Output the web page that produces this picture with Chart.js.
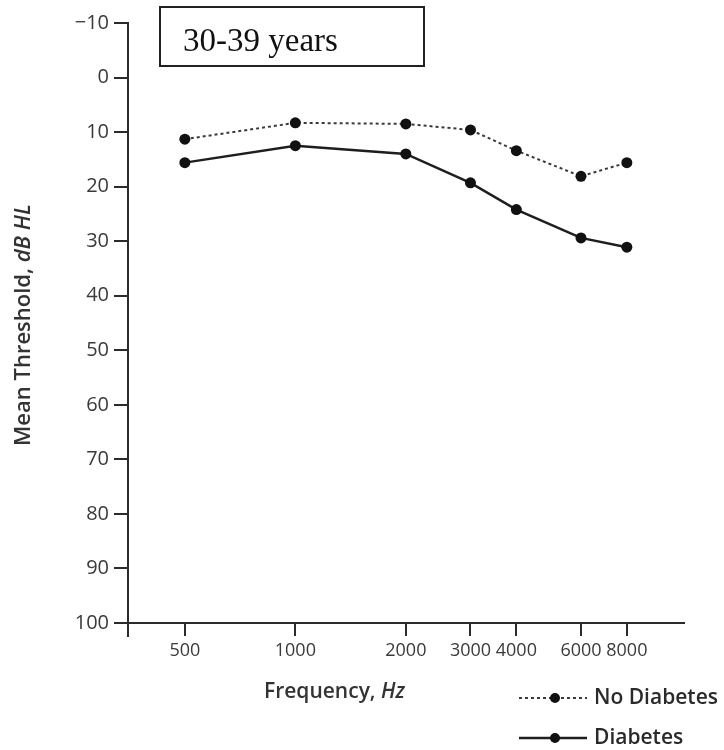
<!DOCTYPE html>
<html>
<head>
<meta charset="utf-8">
<script src="https://cdn.jsdelivr.net/npm/chart.js@4.4.1/dist/chart.umd.min.js"></script>
<style>
  html, body { margin: 0; padding: 0; background: #ffffff; }
  #wrap { width: 724px; height: 750px; position: relative; }
</style>
</head>
<body>
<div id="wrap"><canvas id="chart" width="724" height="750"></canvas></div>
<script>
// Test frequencies (Hz) and mean hearing thresholds (dB HL), ages 30-39
const frequencies = [500, 1000, 2000, 3000, 4000, 6000, 8000];
const noDiabetes = [11.3, 8.3, 8.5, 9.6, 13.4, 18.1, 15.6];
const diabetes = [15.6, 12.5, 14.0, 19.3, 24.2, 29.4, 31.1];
const seriesNames = ['No Diabetes', 'Diabetes'];
const yTicks = [-10, 0, 10, 20, 30, 40, 50, 60, 70, 80, 90, 100];
const panelTitle = '30-39 years';

const INK = '#2b2b2b';
const SANS = '"Open Sans", "Liberation Sans", sans-serif';

const toPoints = vals => frequencies.map((f, i) => ({ x: f, y: vals[i] }));

// Boxed panel label, axis titles with italic units, and line+marker legend
const decorations = {
  id: 'decorations',
  afterDraw(chart) {
    const ctx = chart.ctx;
    const area = chart.chartArea;
    ctx.save();

    // y axis runs a little past the x axis at the corner
    ctx.strokeStyle = INK;
    ctx.lineWidth = 2;
    ctx.beginPath();
    ctx.moveTo(area.left, area.bottom);
    ctx.lineTo(area.left, area.bottom + 14);
    ctx.stroke();

    // panel label box
    ctx.lineWidth = 2;
    ctx.strokeStyle = '#222';
    ctx.strokeRect(160, 7, 264, 59);
    ctx.fillStyle = '#111';
    ctx.font = '33px "Liberation Serif", "Times New Roman", serif';
    ctx.textBaseline = 'alphabetic';
    ctx.textAlign = 'left';
    ctx.fillText(panelTitle, 183, 51);

    // mixed-style title helper
    const drawParts = (parts, x, y) => {
      let cx = x;
      parts.forEach(p => {
        ctx.font = p.font;
        ctx.fillText(p.text, cx, y);
        cx += ctx.measureText(p.text).width;
      });
      return cx - x;
    };
    const measureParts = parts => parts.reduce((w, p) => { ctx.font = p.font; return w + ctx.measureText(p.text).width; }, 0);

    ctx.fillStyle = '#333';
    ctx.textBaseline = 'middle';

    const xParts = [
      { text: 'Frequency, ', font: '600 21px ' + SANS },
      { text: 'Hz', font: 'italic 600 21px ' + SANS }
    ];
    drawParts(xParts, 264, 692);

    const yParts = [
      { text: 'Mean Threshold, ', font: '600 22px ' + SANS },
      { text: 'dB HL', font: 'italic 600 22px ' + SANS }
    ];
    const yw = measureParts(yParts);
    ctx.save();
    ctx.translate(24, 325);
    ctx.rotate(-Math.PI / 2);
    drawParts(yParts, -yw / 2, 0);
    ctx.restore();

    // legend: line sample with a centred marker, then the series name
    const rows = [698, 738];
    chart.data.datasets.forEach((ds, i) => {
      const y = rows[i];
      ctx.strokeStyle = ds.borderColor;
      ctx.lineWidth = ds.borderWidth;
      ctx.setLineDash(ds.borderDash || []);
      ctx.beginPath();
      ctx.moveTo(519, y);
      ctx.lineTo(587, y);
      ctx.stroke();
      ctx.setLineDash([]);
      ctx.fillStyle = ds.pointBackgroundColor;
      ctx.beginPath();
      ctx.arc(555, y, 5, 0, Math.PI * 2);
      ctx.fill();
      ctx.fillStyle = '#2a2a2a';
      ctx.font = '600 21px ' + SANS;
      ctx.textBaseline = 'middle';
      ctx.fillText(ds.label, 594, y);
    });

    ctx.restore();
  }
};

new Chart(document.getElementById('chart'), {
  type: 'line',
  data: {
    datasets: [
      {
        label: seriesNames[0],
        data: toPoints(noDiabetes),
        borderColor: '#3a3a3a',
        borderWidth: 2,
        borderDash: [3, 3],
        pointBackgroundColor: '#111',
        pointBorderWidth: 0,
        pointRadius: 5.5,
        tension: 0
      },
      {
        label: seriesNames[1],
        data: toPoints(diabetes),
        borderColor: '#1e1e1e',
        borderWidth: 2.5,
        pointBackgroundColor: '#111',
        pointBorderWidth: 0,
        pointRadius: 5.5,
        tension: 0
      }
    ]
  },
  options: {
    responsive: false,
    animation: false,
    layout: { padding: { top: 23, right: 40, bottom: 0, left: 0 } },
    plugins: {
      legend: { display: false },
      title: { display: false },
      tooltip: { enabled: false }
    },
    scales: {
      x: {
        type: 'logarithmic',
        min: 350,
        max: 11450,
        afterBuildTicks: axis => { axis.ticks = frequencies.map(v => ({ value: v })); },
        afterFit: axis => { axis.height = 127; },
        ticks: {
          autoSkip: false,
          maxRotation: 0,
          padding: 4,
          color: '#3a3a3a',
          font: { family: SANS, size: 18 },
          callback: v => String(v)
        },
        grid: { drawOnChartArea: false, drawTicks: true, tickLength: 13, color: INK, lineWidth: 2 },
        border: { display: true, color: INK, width: 2 }
      },
      y: {
        reverse: true,
        min: -10,
        max: 100,
        afterBuildTicks: axis => { axis.ticks = yTicks.map(v => ({ value: v })); },
        afterFit: axis => { axis.width = 128; },
        ticks: {
          padding: 5,
          color: '#3a3a3a',
          font: { family: SANS, size: 20 },
          callback: v => (v < 0 ? '\u2212' + Math.abs(v) : String(v))
        },
        grid: { drawOnChartArea: false, drawTicks: true, tickLength: 14, color: INK, lineWidth: 2 },
        border: { display: true, color: INK, width: 2 }
      }
    }
  },
  plugins: [decorations]
});
</script>
</body>
</html>
